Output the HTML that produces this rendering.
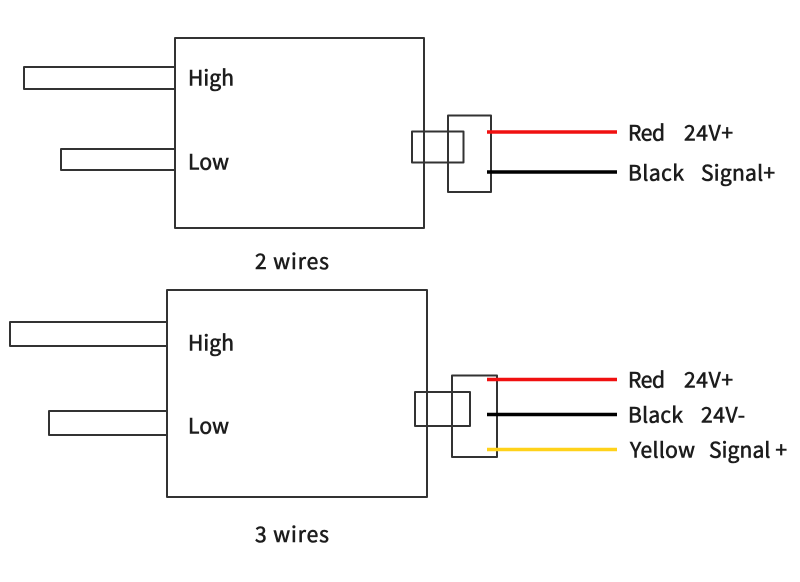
<!DOCTYPE html>
<html>
<head>
<meta charset="utf-8">
<style>
html,body{margin:0;padding:0;background:#fff;width:800px;height:582px;overflow:hidden}
svg{display:block}
text{font-family:"Noto Sans CJK SC","Liberation Sans",sans-serif;font-size:21px;fill:#1c1c1c;stroke:#1c1c1c;stroke-width:.6px}
</style>
</head>
<body>
<svg width="800" height="582" viewBox="0 0 800 582" xmlns="http://www.w3.org/2000/svg">
<rect width="800" height="582" fill="#fff"/>
<g fill="none" stroke="#333" stroke-width="2" stroke-linejoin="round">
<rect x="175" y="38" width="249" height="190"/>
<rect x="24" y="67" width="151" height="22"/>
<rect x="61" y="149" width="114" height="21"/>
<rect x="448" y="115.500" width="43" height="76.500"/>
<rect x="412" y="131.500" width="51.500" height="31"/>
<rect x="167" y="290" width="260" height="207"/>
<rect x="10" y="322" width="157" height="24"/>
<rect x="49" y="411" width="118" height="24"/>
<rect x="452" y="375.500" width="45" height="81.500"/>
<rect x="415" y="392" width="55" height="34"/>
</g>
<g stroke-width="3.500" fill="none">
<line x1="487" y1="132" x2="617" y2="132" stroke="#f01010"/>
<line x1="487" y1="172" x2="617" y2="172" stroke="#000"/>
<line x1="487" y1="379.500" x2="617" y2="379.500" stroke="#f01010"/>
<line x1="487" y1="414.500" x2="617" y2="414.500" stroke="#000"/>
<line x1="487" y1="449.500" x2="617" y2="449.500" stroke="#ffd21a"/>
</g>
<text x="188" y="85.500" textLength="46">High</text>
<text x="188" y="169.500" textLength="41">Low</text>
<text x="255" y="269" textLength="74">2 wires</text>
<text x="628" y="140.500" textLength="37">Red</text>
<text x="684" y="140.500" textLength="49">24V+</text>
<text x="628" y="180.500" textLength="56">Black</text>
<text x="701" y="180.500" textLength="74">Signal+</text>
<text x="188" y="350.500" textLength="46">High</text>
<text x="188" y="433.500" textLength="41">Low</text>
<text x="255" y="542" textLength="74">3 wires</text>
<text x="628" y="387.500" textLength="37">Red</text>
<text x="684" y="387.500" textLength="49">24V+</text>
<text x="628" y="422.500" textLength="55">Black</text>
<text x="701" y="422.500" textLength="44">24V-</text>
<text x="630" y="457.500" textLength="65">Yellow</text>
<text x="709" y="457.500" textLength="78">Signal +</text>
</svg>
</body>
</html>
